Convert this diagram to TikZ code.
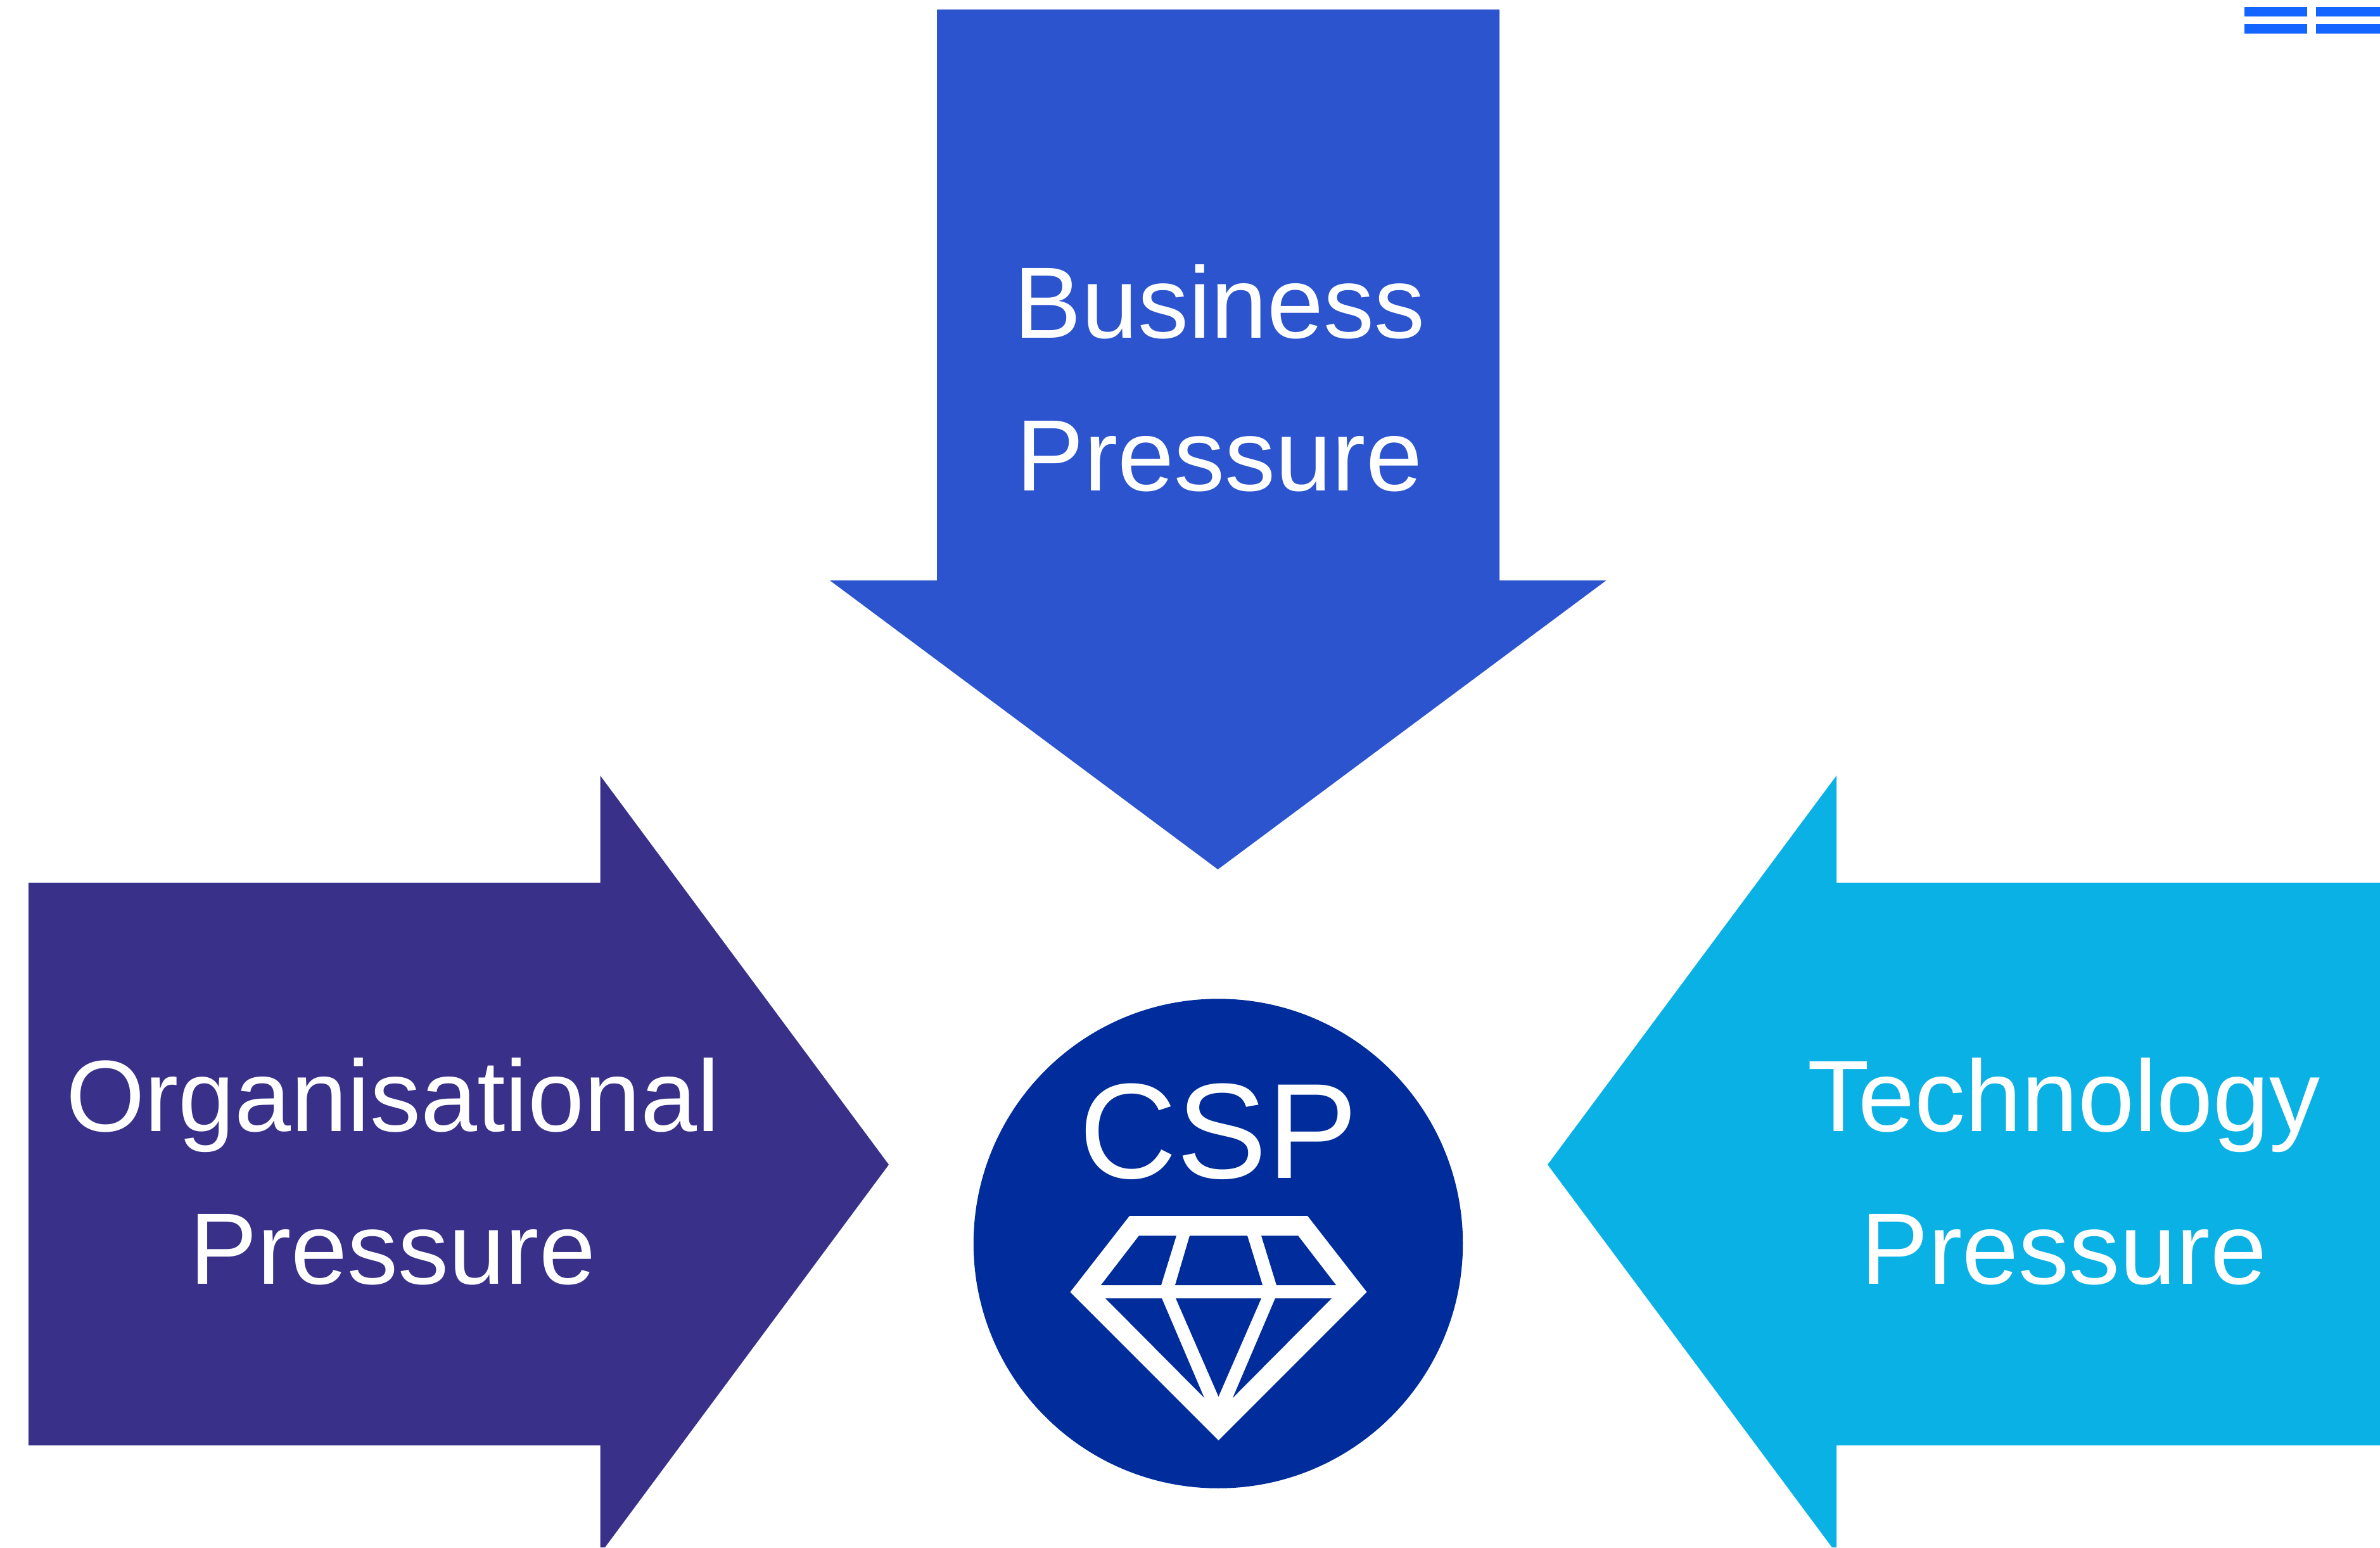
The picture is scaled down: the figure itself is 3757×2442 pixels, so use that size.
\documentclass[tikz,border=0pt]{standalone}
\usepackage{fontspec}
\setmainfont{Liberation Sans}
\usepackage{xcolor}
\definecolor{businessblue}{HTML}{2C54CE}
\definecolor{organisationpurple}{HTML}{39308A}
\definecolor{technologycyan}{HTML}{0AB1E4}
\definecolor{cspblue}{HTML}{002D9B}
\definecolor{menublue}{HTML}{1464FF}
\tikzset{
	pressure/.style = {anchor=base, align=center, text=white, inner sep=0pt, font=\fontsize{45.5}{68.3}\selectfont},
	menubar/.style = {fill=menublue},
	facet/.style = {fill=cspblue}
}

\begin{document}
\begin{tikzpicture}[x=0.01cm,y=-0.01cm]
	\useasboundingbox (0,0) rectangle (3757,2442);

	\coordinate (BA) at (1479,15);
	\coordinate (BB) at (2367,15);
	\coordinate (BC) at (2367,916);
	\coordinate (BD) at (2535.5,916);
	\coordinate (BE) at (1922.5,1372);
	\coordinate (BF) at (1310,916);
	\coordinate (BG) at (1479,916);
	\fill[businessblue] (BA) -- (BB) -- (BC) -- (BD) -- (BE) -- (BF) -- (BG) -- cycle;
	\node[pressure] (business) at (1925,774) {Business\\Pressure};

	\coordinate (OA) at (45,1393);
	\coordinate (OB) at (947.5,1393);
	\coordinate (OC) at (947.5,1224);
	\coordinate (OD) at (1403,1838);
	\coordinate (OE) at (955,2442);
	\coordinate (OF) at (947.5,2442);
	\coordinate (OG) at (947.5,2281);
	\coordinate (OH) at (45,2281);
	\fill[organisationpurple] (OA) -- (OB) -- (OC) -- (OD) -- (OE) -- (OF) -- (OG) -- (OH) -- cycle;
	\node[pressure] (organisational) at (620,2026) {Organisational\\Pressure};

	\coordinate (TA) at (3757,1393);
	\coordinate (TB) at (2899,1393);
	\coordinate (TC) at (2899,1224);
	\coordinate (TD) at (2443,1838);
	\coordinate (TE) at (2892,2442);
	\coordinate (TF) at (2899,2442);
	\coordinate (TG) at (2899,2281);
	\coordinate (TH) at (3757,2281);
	\fill[technologycyan] (TA) -- (TB) -- (TC) -- (TD) -- (TE) -- (TF) -- (TG) -- (TH) -- cycle;
	\node[pressure] (technology) at (3258,2026) {Technology\\Pressure};

	\node[circle, fill=cspblue, minimum size=7.72cm, inner sep=0pt] (disc) at (1923,1962.5) {};
	\node[anchor=base, text=white, inner sep=0pt, font=\fontsize{60.9}{73}\selectfont] (csp) at (1923.5,1859) {CSP};

	\fill[white] (1783,1919) -- (2064,1919) -- (2157.5,2039) -- (1923.5,2273) -- (1689.5,2039) -- cycle;
	\fill[facet] (1798,1950) -- (1857,1950) -- (1833,2028) -- (1738,2028) -- cycle;
	\fill[facet] (1878,1950) -- (1969,1950) -- (1993,2028) -- (1855,2028) -- cycle;
	\fill[facet] (1991,1950) -- (2049,1950) -- (2109,2028) -- (2015,2028) -- cycle;
	\fill[facet] (1745,2049) -- (1834,2049) -- (1901,2206) -- cycle;
	\fill[facet] (1856,2049) -- (1991,2049) -- (1923.5,2204) -- cycle;
	\fill[facet] (2013,2049) -- (2102,2049) -- (1946,2206) -- cycle;

	\fill[menubar] (3543,11) rectangle (3642,26);
	\fill[menubar] (3656,11) rectangle (3757,26);
	\fill[menubar] (3543,38) rectangle (3642,53);
	\fill[menubar] (3656,38) rectangle (3757,53);
\end{tikzpicture}
\end{document}
